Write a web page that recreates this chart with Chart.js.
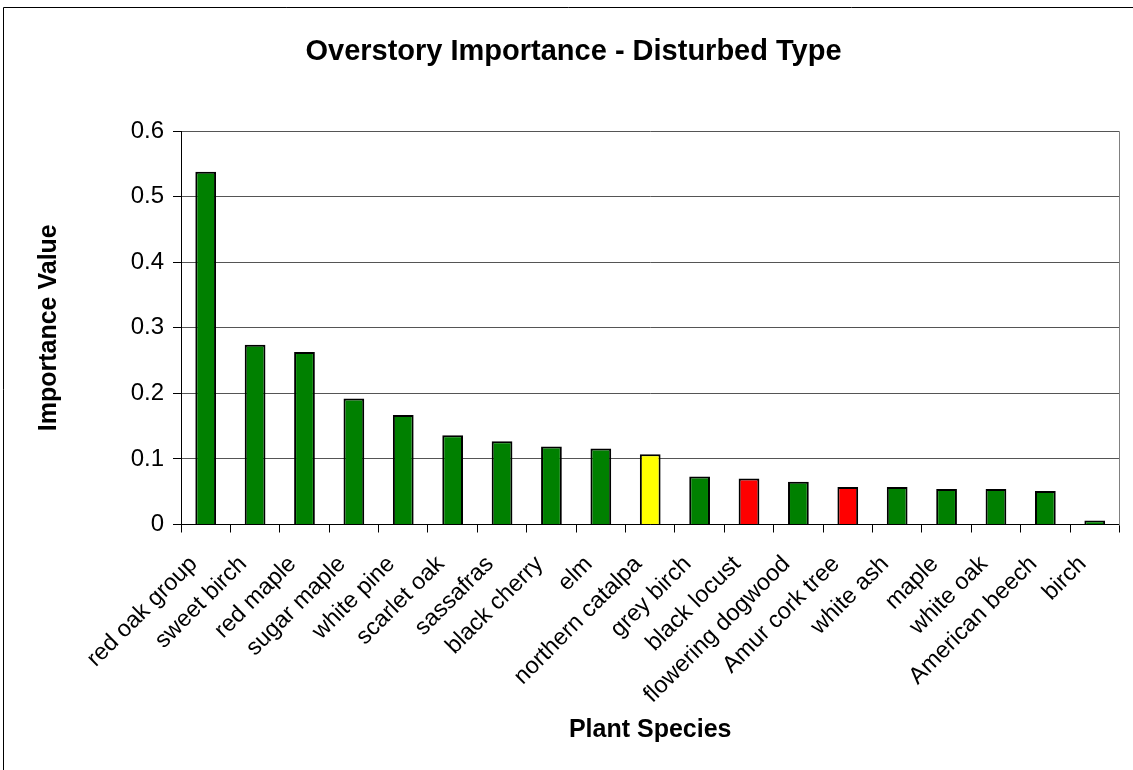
<!DOCTYPE html>
<html>
<head>
<meta charset="utf-8">
<title>Overstory Importance - Disturbed Type</title>
<script src="https://cdn.jsdelivr.net/npm/chart.js@4"></script>
<style>
  html, body { margin: 0; padding: 0; background: #ffffff; }
  #wrap { position: relative; width: 1133px; height: 770px; }
</style>
</head>
<body>
<div id="wrap"><canvas id="chart"></canvas></div>
<script>
// Overstory species of the disturbed stand type, ranked by importance value
const species = [
  'red oak group', 'sweet birch', 'red maple', 'sugar maple', 'white pine',
  'scarlet oak', 'sassafras', 'black cherry', 'elm', 'northern catalpa',
  'grey birch', 'black locust', 'flowering dogwood', 'Amur cork tree',
  'white ash', 'maple', 'white oak', 'American beech', 'birch'
];
const importance = [
  0.538, 0.274, 0.263, 0.192, 0.167,
  0.136, 0.127, 0.119, 0.116, 0.107,
  0.073, 0.070, 0.065, 0.057,
  0.057, 0.054, 0.054, 0.051, 0.006
];
// native / introduced / invasive status of each species
const status = [
  'native', 'native', 'native', 'native', 'native',
  'native', 'native', 'native', 'native', 'introduced',
  'native', 'invasive', 'native', 'invasive',
  'native', 'native', 'native', 'native', 'native'
];
const yTickValues = [0, 0.1, 0.2, 0.3, 0.4, 0.5, 0.6];

const statusColor = { native: '#008000', introduced: '#FFFF00', invasive: '#FF0000' };
const FONT = '"Liberation Sans", Arial, Helvetica, sans-serif';

// white page, outer chart frame and the plot area's right edge
const framePlugin = {
  id: 'frame',
  beforeDraw(chart) {
    const ctx = chart.ctx;
    ctx.save();
    ctx.fillStyle = '#ffffff';
    ctx.fillRect(0, 0, chart.width, chart.height);
    ctx.restore();
  },
  afterDraw(chart) {
    const ctx = chart.ctx;
    const a = chart.chartArea;
    ctx.save();
    ctx.strokeStyle = '#000000';
    ctx.lineWidth = 1;
    ctx.beginPath();
    ctx.moveTo(3.5, chart.height + 2);
    ctx.lineTo(3.5, 7.5);
    ctx.lineTo(chart.width + 2, 7.5);
    ctx.stroke();
    ctx.strokeStyle = '#808080';
    ctx.beginPath();
    const r = Math.round(a.right) + 0.5;
    ctx.moveTo(r, Math.round(a.top) + 0.5);
    ctx.lineTo(r, Math.round(a.bottom) + 0.5);
    ctx.stroke();
    ctx.restore();
  }
};

new Chart(document.getElementById('chart'), {
  type: 'bar',
  data: {
    labels: species,
    datasets: [{
      label: 'Importance Value',
      data: importance,
      backgroundColor: status.map(s => statusColor[s]),
      borderColor: '#000000',
      borderWidth: 2,
      barPercentage: 0.42,
      categoryPercentage: 1.0
    }]
  },
  options: {
    responsive: true,
    maintainAspectRatio: false,
    animation: false,
    layout: { padding: { left: 26, right: 12, top: 0, bottom: 0 } },
    plugins: {
      legend: { display: false },
      tooltip: { enabled: false },
      title: {
        display: true,
        text: 'Overstory Importance - Disturbed Type',
        color: '#000000',
        font: { family: FONT, size: 29, weight: 'bold' },
        padding: { top: 34.6, bottom: 61.6 }
      }
    },
    scales: {
      x: {
        afterFit(scale) { scale.height = 245.5; },
        grid: {
          offset: true,
          drawOnChartArea: false,
          drawTicks: true,
          tickLength: 8,
          tickColor: '#000000'
        },
        border: { display: true, color: '#000000', width: 1 },
        ticks: {
          autoSkip: false,
          minRotation: 45,
          maxRotation: 45,
          padding: 18,
          labelOffset: -12,
          color: '#000000',
          font: { family: FONT, size: 23.5 }
        },
        title: {
          display: true,
          text: 'Plant Species',
          color: '#000000',
          font: { family: FONT, size: 25, weight: 'bold' },
          padding: { top: 0, bottom: 25 }
        }
      },
      y: {
        min: 0,
        max: 0.6,
        afterFit(scale) { scale.width = 155; },
        afterBuildTicks(scale) { scale.ticks = yTickValues.map(v => ({ value: v })); },
        grid: {
          color: '#555555',
          lineWidth: 1,
          drawTicks: true,
          tickLength: 8,
          tickColor: '#000000'
        },
        border: { display: true, color: '#000000', width: 1 },
        ticks: {
          padding: 9,
          color: '#000000',
          font: { family: FONT, size: 24 },
          callback: v => String(v)
        },
        title: {
          display: true,
          text: 'Importance Value',
          color: '#000000',
          font: { family: FONT, size: 25, weight: 'bold' },
          padding: { top: 8, bottom: 0 }
        }
      }
    }
  },
  plugins: [framePlugin]
});
</script>
</body>
</html>
